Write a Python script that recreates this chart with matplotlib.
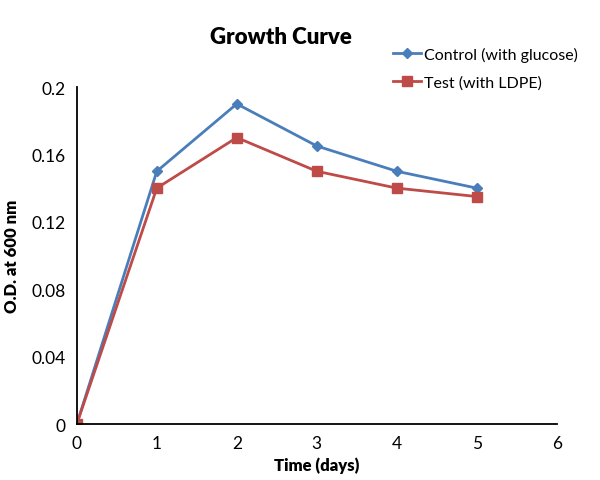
import matplotlib.pyplot as plt

days = [0, 1, 2, 3, 4, 5]
control = [0, 0.15, 0.19, 0.165, 0.15, 0.14]
test = [0, 0.14, 0.17, 0.15, 0.14, 0.135]
x_ticks = [0, 1, 2, 3, 4, 5, 6]
y_ticks = [0, 0.04, 0.08, 0.12, 0.16, 0.2]
y_labels = ['0', '0.04', '0.08', '0.12', '0.16', '0.2']

plt.rcParams['font.family'] = ['Lato', 'DejaVu Sans']

fig = plt.figure(figsize=(6, 4.81), dpi=100)
ax = fig.add_axes([0.128, 0.1164, 0.80, 0.7006])

ax.plot(days, control, color='#4a7ebb', marker='D', markersize=5, linewidth=2,
        label='Control (with glucose)')
ax.plot(days, test, color='#be4b48', marker='s', markersize=7, linewidth=2,
        label='Test (with LDPE)')

ax.set_xlim(0, 6)
ax.set_ylim(0, 0.2)
ax.set_xticks(x_ticks)
ax.set_yticks(y_ticks)
ax.set_yticklabels(y_labels)
ax.tick_params(length=0, labelsize=12.5, pad=8)

for side in ['top', 'right']:
    ax.spines[side].set_visible(False)
for side in ['left', 'bottom']:
    ax.spines[side].set_linewidth(1.3)
    ax.spines[side].set_color('black')

ax.set_xlabel('Time (days)', fontsize=12, fontweight='heavy', labelpad=4)
ax.set_ylabel('O.D. at 600 nm', fontsize=12, fontweight='heavy', labelpad=8)

fig.text(0.468, 0.923, 'Growth Curve', fontsize=16, fontweight='heavy',
         ha='center', va='center')

fig.legend(loc='upper left', bbox_to_anchor=(0.645, 0.914), frameon=False,
           fontsize=11.5, handlelength=1.7, handletextpad=0.2, labelspacing=0.85,
           borderaxespad=0)

fig.savefig('out.png', dpi=100)
